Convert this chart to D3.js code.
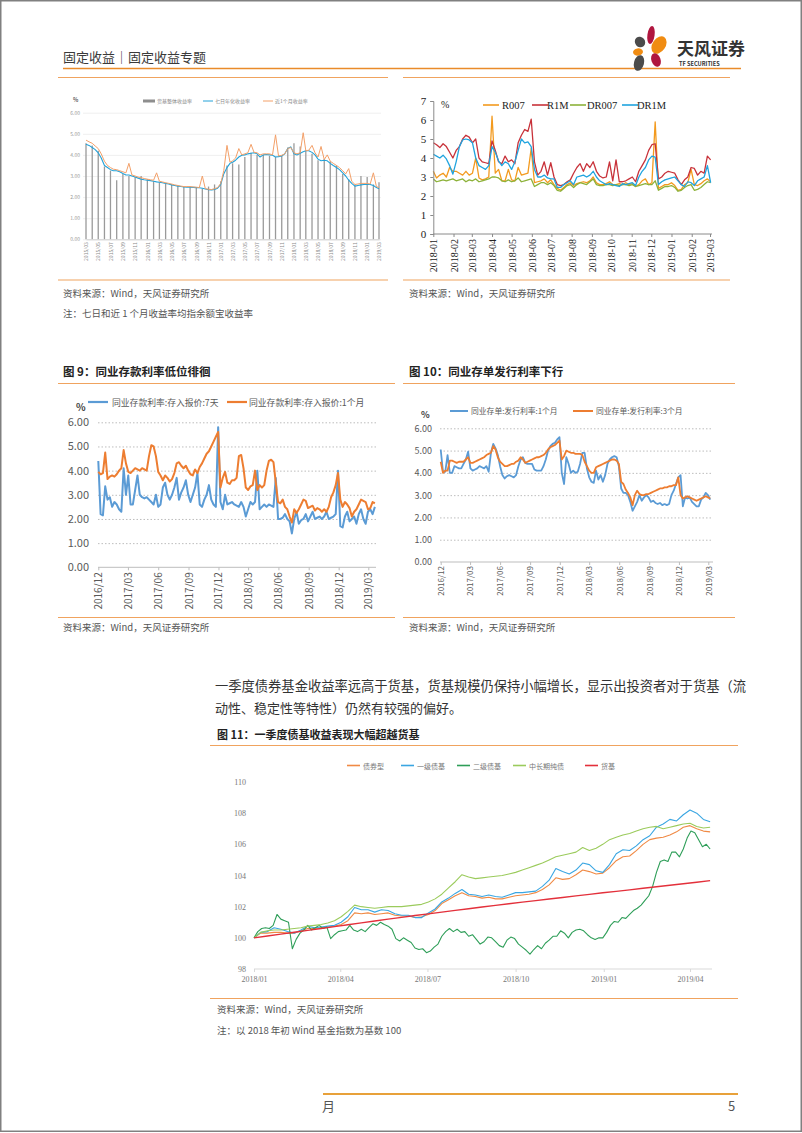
<!DOCTYPE html>
<html>
<head>
<meta charset="utf-8">
<title>固定收益专题 p5</title>
<script src="https://cdn.jsdelivr.net/npm/d3@7"></script>
<style>
  html, body { margin: 0; padding: 0; background: #fff; }
  svg { display: block; }
  text { font-family: "Noto Sans CJK SC", "Noto Sans", sans-serif; }
  .serif text, text.serif { font-family: "Liberation Serif", "DejaVu Serif", serif; }
</style>
</head>
<body>
<svg id="page" width="802" height="1133"></svg>
<script>
// ---------- data: 余额宝 / 货基 (semi-monthly from 2015-03) ----------
const ylbStart = "2015-03-01";
const ylbFundYield = [4.55,4.45,4.2,3.45,3.25,2.8,3.1,3.0,2.95,3.0,2.85,2.75,2.7,2.65,2.6,2.55,2.5,2.5,2.45,2.4,
  2.5,2.6,2.75,3.5,3.6,3.55,3.9,4.1,4.0,4.0,3.95,3.9,3.95,4.35,4.55,4.4,4.2,4.05,3.75,3.8,
  3.7,3.5,3.1,2.85,2.6,3.0,2.95,2.6,2.7];
const ylb7d = [4.5,4.45,4.35,4.25,4.1,3.85,3.5,3.4,3.3,3.25,3.25,3.2,3.12,3.05,3.05,3.0,2.95,2.9,2.85,2.82,
  2.8,2.78,2.75,2.72,2.7,2.68,2.65,2.62,2.58,2.55,2.52,2.5,2.48,2.47,2.47,2.46,2.45,2.44,2.42,2.38,
  2.35,2.34,2.36,2.42,2.6,3.1,3.4,3.6,3.65,3.75,3.9,3.98,4.0,4.05,4.08,4.1,4.05,3.9,4.0,4.02,
  4.0,3.98,3.9,3.92,3.95,4.05,4.3,4.38,4.05,4.0,4.08,4.15,4.2,4.2,4.12,4.0,3.8,3.72,3.75,3.72,
  3.6,3.5,3.4,3.3,3.15,3.0,2.8,2.65,2.52,2.55,2.58,2.6,2.6,2.6,2.55,2.45,2.4];
const ylb1m = [4.7,4.62,4.55,4.42,4.3,4.05,3.7,3.5,3.4,3.32,3.3,3.25,3.2,3.15,3.6,3.05,3.0,2.95,2.92,2.88,
  2.85,2.82,2.8,3.15,2.75,2.72,2.68,2.65,2.62,2.58,2.55,2.52,2.5,2.5,2.5,2.48,2.47,2.45,3.0,2.4,
  2.37,2.36,2.4,2.45,2.65,3.25,4.45,3.65,3.72,3.85,4.3,4.0,4.05,4.1,4.5,4.12,4.1,4.0,4.05,4.05,
  4.05,4.0,4.95,3.95,3.98,4.05,4.3,4.35,4.1,4.05,4.1,5.05,4.2,4.22,4.45,4.1,3.9,4.4,3.78,4.0,
  3.7,3.6,3.5,3.4,3.25,3.1,3.35,2.75,2.6,2.62,2.65,2.65,2.65,2.62,3.15,2.5,2.45];

// ---------- data: 回购利率 (every 5 days from 2018-01-01) ----------
const repoStart = "2018-01-01";
const r007 = [3.3,2.95,3.1,3.2,3.0,3.5,3.3,3.3,3.2,3.1,3.3,3.1,3.2,4.0,2.95,2.85,2.9,3.0,6.2,3.2,
  3.4,2.8,2.8,3.4,2.85,2.8,3.5,3.1,3.15,3.2,4.5,2.7,2.75,2.8,2.9,2.7,2.85,2.6,2.4,2.3,
  2.45,2.6,2.7,2.55,2.65,2.7,2.75,2.7,2.8,3.0,2.7,2.6,2.6,2.65,2.75,2.6,2.6,2.65,2.6,2.7,
  2.6,2.65,2.5,2.6,2.8,2.9,2.6,2.7,5.9,2.4,2.5,2.6,2.6,2.7,2.55,2.3,2.35,2.6,2.7,3.4,
  2.6,2.55,2.65,2.8,2.9,2.75];
const r1m = [4.8,4.7,4.55,4.75,4.6,4.3,4.0,4.4,4.6,5.0,5.2,5.1,4.8,5.0,4.0,3.8,3.75,3.7,4.9,4.4,
  3.8,3.7,4.1,3.8,3.9,3.7,4.8,5.2,5.5,5.4,6.05,3.8,3.1,3.3,3.8,3.1,3.75,3.0,2.6,2.55,
  2.6,2.75,2.85,3.2,3.5,3.7,3.3,3.7,3.5,3.8,3.3,3.05,2.95,3.0,3.8,2.8,3.9,2.75,2.75,2.8,
  2.9,3.0,2.75,3.3,3.6,3.9,4.4,4.7,4.75,2.9,3.0,3.2,3.3,3.25,3.2,2.85,2.6,2.85,3.0,3.5,
  3.45,3.1,3.3,3.2,4.1,3.9];
const dr007 = [2.9,2.75,2.8,2.85,2.8,2.85,2.9,2.8,2.85,2.9,2.75,2.85,2.8,2.9,2.75,2.8,2.85,2.9,3.0,3.0,
  2.95,2.8,2.75,2.85,2.75,2.8,2.95,2.75,2.8,2.85,2.9,2.5,2.6,2.7,2.7,2.6,2.7,2.55,2.3,2.25,
  2.4,2.55,2.6,2.45,2.6,2.7,2.65,2.6,2.75,2.9,2.6,2.55,2.55,2.6,2.6,2.55,2.6,2.55,2.6,2.6,
  2.55,2.6,2.5,2.55,2.6,2.65,2.6,2.6,2.8,2.3,2.4,2.5,2.5,2.55,2.45,2.25,2.3,2.45,2.55,2.6,
  2.3,2.35,2.45,2.6,2.75,2.7];
const dr1m = [4.2,4.1,4.0,4.15,3.95,3.6,3.15,3.8,4.6,4.95,5.0,4.95,4.8,4.0,3.6,3.5,3.4,3.6,4.6,4.3,
  3.85,3.6,3.8,3.7,3.4,3.8,4.4,5.0,4.8,4.85,4.6,3.4,3.0,3.0,3.1,2.95,2.9,2.9,2.45,2.45,
  2.6,2.7,2.8,2.6,3.0,3.05,3.1,3.0,3.1,3.3,3.0,2.8,2.7,2.6,2.65,2.6,2.55,2.5,2.65,2.6,
  2.65,2.7,2.55,3.0,3.3,3.5,3.9,4.1,4.05,2.6,2.75,2.85,2.9,2.95,3.0,2.8,2.6,2.5,2.75,2.7,
  2.55,2.8,2.9,3.0,3.6,2.7];
const repoNames = ["R007", "R1M", "DR007", "DR1M"];

// ---------- data: 图9 同业存款利率 (weekly from 2016-12-01) ----------
const depStart = "2016-12-01";
const dep7d = [4.4,2.2,2.15,3.35,2.8,2.9,2.5,2.7,2.6,2.4,2.3,4.1,3.0,3.8,2.6,2.6,3.2,3.8,3.0,2.9,
  2.85,2.9,2.8,2.7,2.6,3.0,2.5,2.6,3.3,3.5,3.0,2.8,3.0,3.3,3.7,2.8,3.1,3.3,3.6,3.0,
  2.7,3.0,3.3,3.9,2.6,2.5,2.8,3.0,3.4,2.8,2.6,2.5,5.8,2.7,2.4,3.0,2.6,2.65,2.7,2.6,
  2.55,2.5,2.7,2.5,2.1,2.4,2.7,2.6,2.7,4.0,2.4,2.5,2.6,2.5,2.6,2.55,2.5,3.7,2.0,2.0,
  2.05,2.2,2.0,1.9,1.4,2.0,2.3,1.8,1.95,2.0,2.2,1.9,2.1,2.3,2.0,2.05,2.1,2.0,2.1,2.3,
  2.0,2.05,2.1,2.2,4.0,1.7,1.65,2.1,2.3,1.9,2.0,2.1,1.8,2.2,2.4,2.0,1.8,2.3,2.4,2.2,2.5];
const dep1m = [3.95,3.85,3.9,4.75,3.65,3.75,3.8,3.75,3.85,4.0,4.1,4.85,4.3,3.95,3.9,4.0,4.1,4.05,4.0,4.1,
  4.05,4.0,4.6,5.05,5.0,4.6,3.95,3.8,3.6,3.8,3.7,3.55,3.65,3.9,4.3,4.35,4.2,4.1,4.2,4.0,
  3.85,3.8,4.05,3.9,4.15,4.3,4.5,4.7,4.8,5.0,5.2,5.4,5.6,3.3,3.7,3.95,3.5,3.45,3.6,3.6,
  3.7,4.6,4.65,4.1,3.3,3.2,3.35,3.4,4.0,3.2,3.4,3.3,3.4,4.0,4.4,4.45,4.35,3.5,2.7,2.65,
  2.8,2.5,2.4,2.1,1.85,2.4,2.25,2.4,2.6,2.8,2.75,2.45,2.5,2.55,2.35,2.45,2.4,2.3,2.4,2.3,
  2.5,2.9,3.1,3.4,3.9,2.8,2.5,2.7,2.6,2.45,2.1,2.3,2.4,2.6,2.8,2.75,2.7,2.4,2.45,2.7,2.65];
const depNames = ["同业存款利率:存入报价:7天", "同业存款利率:存入报价:1个月"];

// ---------- data: 图10 同业存单发行利率 (weekly from 2016-12-01) ----------
const ncdStart = "2016-12-01";
const ncd1m = [5.05,4.05,4.05,4.8,4.0,4.0,4.3,4.25,4.2,4.2,4.4,4.6,4.95,4.2,4.1,4.15,4.2,4.3,4.25,4.2,
  4.3,4.05,4.9,5.3,5.1,4.8,4.3,3.9,3.75,3.85,3.9,3.85,3.8,3.9,4.3,4.6,4.7,4.45,4.4,4.4,
  4.4,4.15,4.1,4.1,4.1,4.3,4.6,5.0,5.2,5.3,5.35,5.5,5.6,4.0,3.5,4.7,4.4,4.0,4.1,4.0,
  4.05,4.4,4.9,4.9,4.2,3.8,3.6,3.55,4.1,3.7,3.9,3.6,3.9,4.4,4.6,4.7,4.75,4.7,4.3,3.3,
  3.1,3.1,3.0,2.7,2.3,2.5,2.7,3.0,2.75,2.9,3.0,2.9,2.7,2.75,2.65,2.6,2.65,2.55,2.6,2.55,
  2.6,3.0,3.2,3.5,3.8,3.9,2.5,2.9,2.85,2.9,2.7,2.6,2.5,2.5,2.8,2.9,3.1,3.0,2.8];
const ncd3m = [4.5,4.0,4.1,4.1,4.55,4.55,4.5,4.45,4.5,4.5,4.5,4.6,4.7,4.45,4.45,4.5,4.55,4.6,4.65,4.7,
  4.8,4.85,4.9,5.2,5.05,4.7,4.5,4.4,4.3,4.3,4.35,4.4,4.4,4.5,4.55,4.7,4.6,4.45,4.5,4.55,
  4.6,4.65,4.7,4.7,4.75,4.8,4.9,5.05,5.15,5.2,5.25,5.35,5.45,4.6,4.75,5.0,4.95,4.9,4.9,4.85,
  4.85,4.85,4.8,4.5,4.3,4.1,4.0,4.0,4.25,4.3,4.35,4.4,4.45,4.5,4.55,4.6,4.6,4.55,4.4,3.6,
  3.5,3.25,3.1,2.9,2.55,3.0,3.2,3.05,3.0,3.0,3.05,3.05,3.1,3.15,3.2,3.25,3.3,3.3,3.35,3.35,
  3.4,3.4,3.45,3.45,3.8,3.0,2.85,2.9,2.95,2.9,2.85,2.8,2.75,2.8,2.85,2.9,2.95,2.9,2.85];
const ncdNames = ["同业存单:发行利率:1个月", "同业存单:发行利率:3个月"];

// ---------- data: 图11 基金指数 (2018年初=100) ----------
const fundStart = "2018-01-01";
const bondFund = [100.0,100.3,100.3,100.35,100.35,100.3,100.3,100.45,100.6,100.6,100.65,100.7,100.75,100.85,101.1,101.6,101.55,101.6,101.5,101.55,
  101.6,101.45,101.4,101.4,101.3,101.35,101.5,101.75,102.2,102.45,102.7,102.9,102.7,102.65,102.55,102.6,102.5,102.5,102.6,102.7,
  102.75,102.8,102.9,103.1,103.4,103.85,103.75,103.8,104.05,104.35,104.25,104.1,104.15,104.5,104.95,105.2,105.25,105.6,106.0,106.3,
  106.4,106.45,106.6,106.8,107.1,107.2,107.0,106.85,106.8];
const firstBond = [100.0,100.35,100.4,100.65,100.55,100.4,100.3,100.5,100.75,100.65,100.7,100.75,100.8,101.0,101.35,101.95,101.8,101.8,101.65,101.8,
  101.75,101.55,101.45,101.45,101.3,101.3,101.6,101.85,102.3,102.55,102.85,103.1,102.8,102.75,102.65,102.75,102.65,102.6,102.75,102.9,
  102.9,102.95,103.0,103.3,103.7,104.45,104.25,104.1,104.35,104.8,104.7,104.3,104.2,104.7,105.4,105.65,105.6,105.9,106.3,106.55,
  107.1,107.3,107.6,107.5,107.9,108.2,108.0,107.6,107.45];
const secondBond = [100.0,100.4,100.6,100.65,100.6,100.8,101.5,101.2,101.1,101.0,99.3,99.9,100.3,100.5,100.8,100.5,100.65,100.8,100.6,100.7,
  99.95,100.2,100.4,100.45,100.5,100.8,100.5,100.4,100.55,100.4,100.65,100.9,100.8,101.0,100.85,100.75,100.55,99.95,99.8,100.0,
  99.85,99.7,99.35,99.25,99.3,99.05,99.15,99.4,99.6,100.1,100.4,100.6,100.4,100.55,100.35,100.4,100.1,100.2,99.9,99.6,
  99.75,100.05,100.0,99.75,99.5,99.4,99.85,100.05,99.95,99.6,99.4,99.2,98.95,99.25,99.5,99.3,99.65,99.85,100.1,100.1,
  100.45,100.3,100.0,100.35,100.5,100.55,100.45,100.2,100.0,99.9,100.0,100.0,100.35,100.8,101.05,101.0,101.3,101.25,101.5,101.75,
  101.9,102.1,102.4,102.7,103.3,104.2,104.9,105.0,104.9,105.5,105.5,105.2,105.7,106.4,106.85,106.75,106.3,105.85,106.0,105.7];
const midLong = [100.0,100.35,100.45,100.5,100.5,100.55,100.6,100.65,100.75,100.8,100.85,100.95,101.1,101.35,101.7,102.1,102.0,101.95,101.9,101.95,
  102.0,102.0,102.0,102.05,102.1,102.15,102.3,102.5,102.8,103.2,103.6,104.05,103.9,103.8,103.85,103.9,103.95,104.0,104.1,104.2,
  104.35,104.5,104.65,104.8,105.0,105.2,105.3,105.4,105.5,105.8,105.6,105.75,106.0,106.3,106.45,106.6,106.7,106.85,107.0,107.1,
  107.15,107.0,107.1,107.2,107.3,107.35,107.15,107.05,107.1];
const moneyFund = [100.0,100.12,100.24,100.36,100.48,100.6,100.72,100.84,100.96,101.08,101.2,101.31,101.43,101.54,101.65,101.76,101.87,101.98,102.08,102.19,
  102.29,102.39,102.49,102.59,102.69,102.79,102.89,102.98,103.08,103.18,103.28,103.37,103.47,103.57,103.67];
const fundNames = ["债券型", "一级债基", "二级债基", "中长期纯债", "货基"];

// ---------- helpers ----------
const parse = d3.timeParse("%Y-%m-%d");
const svg = d3.select("#page");

function stepDates(start, n, days) {
  const s = parse(start);
  return d3.range(n).map(i => d3.timeDay.offset(s, i * days));
}
function halfMonthDates(start, n) {
  const s = parse(start);
  return d3.range(n).map(i => d3.timeDay.offset(d3.timeMonth.offset(s, Math.floor(i / 2)), (i % 2) * 15));
}
function monthTicks(start, n, every) {
  const s = parse(start);
  return d3.range(n).map(i => d3.timeMonth.offset(s, i * every));
}
function addLine(g, x, y, dates, vals, color, w) {
  const line = d3.line().x((d, i) => x(dates[i])).y(d => y(d));
  g.append("path").datum(vals)
    .attr("d", line)
    .attr("fill", "none")
    .attr("stroke", color)
    .attr("stroke-width", w)
    .attr("stroke-linejoin", "round");
}
function hline(x1, x2, y, color, w) {
  svg.append("line").attr("x1", x1).attr("x2", x2).attr("y1", y).attr("y2", y)
    .attr("stroke", color).attr("stroke-width", w);
}
function label(x, y, str, size, color, opts) {
  const t = svg.append("text").attr("x", x).attr("y", y)
    .attr("font-size", size).attr("fill", color).text(str);
  if (opts && opts.bold) t.attr("font-weight", "bold");
  if (opts && opts.anchor) t.attr("text-anchor", opts.anchor);
  return t;
}
// rotate the tick labels of a bottom axis so they read upward
function rotateTicks(axisG, size, color, pad) {
  axisG.selectAll(".tick text")
    .attr("transform", "rotate(-90)")
    .attr("text-anchor", "end")
    .attr("x", -pad).attr("y", 0).attr("dy", "0.35em")
    .attr("font-size", size).attr("fill", color);
}

// ---------- page frame, header ----------
svg.append("rect").attr("x", 0.75).attr("y", 0.75).attr("width", 800.5).attr("height", 1130.5)
  .attr("fill", "none").attr("stroke", "#808080").attr("stroke-width", 1.5);

label(63, 62, "固定收益｜固定收益专题", 13, "#3a3a3a");
hline(63, 741, 68.5, "#E98B2A", 1.6);

// logo petals
const logo = svg.append("g");
[[651, 35, 3.6, 9, 8, "#B0163F"], [640, 42, 5, 5.5, -40, "#4B4B4B"], [659, 45, 6.5, 9.5, 35, "#F08C12"],
 [638, 52, 5, 3.6, -10, "#F08C12"], [639, 63, 5, 8, 15, "#4B4B4B"], [656, 60, 4.6, 7, -20, "#B0163F"]]
  .forEach(p => logo.append("ellipse").attr("cx", p[0]).attr("cy", p[1]).attr("rx", p[2]).attr("ry", p[3])
    .attr("transform", `rotate(${p[4]},${p[0]},${p[1]})`).attr("fill", p[5]));
label(677, 55, "天风证券", 17, "#333", { bold: true });
label(679, 66, "TF SECURITIES", 5.6, "#333", { bold: true });

// frame lines of the two top charts
hline(58, 388, 77.5, "#F0A35E", 1.2);
hline(403, 730, 77.5, "#F0A35E", 1.2);
hline(58, 388, 280, "#F0A35E", 1.2);
hline(403, 730, 280, "#F0A35E", 1.2);
label(63, 297, "资料来源：Wind，天风证券研究所", 9.5, "#555");
label(63, 317, "注：七日和近 1 个月收益率均指余额宝收益率", 9.5, "#555");
label(409, 297, "资料来源：Wind，天风证券研究所", 9.5, "#555");

// ---------- chart A: 余额宝收益率 ----------
{
  const g = svg.append("g");
  const x = d3.scaleTime().domain([parse("2015-03-01"), parse("2019-03-01")]).range([86, 379]);
  const y = d3.scaleLinear().domain([0, 6]).range([239.3, 112.7]);
  const grid = g.append("g").attr("transform", "translate(83,0)")
    .call(d3.axisLeft(y).ticks(6).tickSize(-298).tickFormat(""));
  grid.select(".domain").remove();
  grid.selectAll(".tick line").attr("stroke", "#E4E4E4").attr("stroke-width", 0.6);
  const ya = g.append("g").attr("transform", "translate(83,0)")
    .call(d3.axisLeft(y).ticks(6).tickSize(0).tickPadding(3).tickFormat(d3.format(".2f")));
  ya.select(".domain").remove();
  ya.selectAll("text").attr("font-size", 5).attr("fill", "#999");

  const bd = monthTicks(ylbStart, ylbFundYield.length, 1);
  g.append("g").selectAll("line").data(ylbFundYield).join("line")
    .attr("x1", (d, i) => x(bd[i])).attr("x2", (d, i) => x(bd[i]))
    .attr("y1", y(0)).attr("y2", d => y(d))
    .attr("stroke", "#9A9A9A").attr("stroke-width", 1.3);
  addLine(g, x, y, halfMonthDates(ylbStart, ylb7d.length), ylb7d, "#24A2D8", 1.1);
  addLine(g, x, y, halfMonthDates(ylbStart, ylb1m.length), ylb1m, "#F3A069", 1);

  const xa = g.append("g").attr("transform", `translate(0,${y(0)})`)
    .call(d3.axisBottom(x).tickValues(monthTicks(ylbStart, 25, 2)).tickSize(0).tickFormat(d3.timeFormat("%Y/%m")));
  xa.select(".domain").attr("stroke", "#D0D0D0");
  rotateTicks(xa, 5, "#888", 3);

  label(73, 102, "%", 5.5, "#666", { bold: true });
  g.append("rect").attr("x", 143).attr("y", 99.5).attr("width", 12).attr("height", 3).attr("fill", "#8E8E8E");
  label(157, 102.5, "货基整体收益率", 5, "#888");
  hline(203, 213, 101, "#24A2D8", 1);
  label(215, 102.5, "七日年化收益率", 5, "#888");
  hline(263, 273, 101, "#F3A069", 1);
  label(275, 102.5, "近1个月收益率", 5, "#888");
}

// ---------- chart B: R007 / R1M / DR007 / DR1M ----------
{
  const g = svg.append("g").attr("class", "serif");
  const x = d3.scaleTime().domain([parse("2018-01-01"), parse("2019-03-01")]).range([433.3, 710]);
  const y = d3.scaleLinear().domain([0, 7]).range([234, 101]);
  const dates = stepDates(repoStart, r007.length, 5);
  const colors = ["#F39A1E", "#C8323A", "#8DB23A", "#20A4DF"];
  [r007, r1m, dr007, dr1m].forEach((s, i) => addLine(g, x, y, dates, s, colors[i], 1.3));

  const ya = g.append("g").attr("transform", "translate(433.3,0)")
    .call(d3.axisLeft(y).ticks(7).tickSize(3).tickPadding(4).tickFormat(d3.format("d")));
  ya.selectAll("path, line").attr("stroke", "#8a8a8a");
  ya.selectAll("text").attr("font-size", 11).attr("fill", "#222");
  const xa = g.append("g").attr("transform", `translate(0,${y(0)})`)
    .call(d3.axisBottom(x).tickValues(monthTicks("2018-01-01", 15, 1)).tickSize(3).tickFormat(d3.timeFormat("%Y-%m")));
  xa.select(".domain").attr("d", `M433.3,0H712`).attr("stroke", "#8a8a8a");
  xa.selectAll(".tick line").attr("stroke", "#8a8a8a");
  rotateTicks(xa, 10, "#222", 5);

  const lg = svg.append("g").attr("class", "serif");
  lg.append("text").attr("x", 441).attr("y", 108).attr("font-size", 10).attr("fill", "#222").text("%");
  const lx = [[483, 502], [532, 547], [570, 587], [622, 637]];
  repoNames.forEach((n, i) => {
    lg.append("line").attr("x1", lx[i][0]).attr("x2", lx[i][0] + 16).attr("y1", 105).attr("y2", 105)
      .attr("stroke", colors[i]).attr("stroke-width", 1.6);
    lg.append("text").attr("x", lx[i][1]).attr("y", 109).attr("font-size", 10.5).attr("fill", "#222").text(n);
  });
}

// ---------- chart 9 ----------
label(63, 376, "图 9：同业存款利率低位徘徊", 11.5, "#222", { bold: true });
hline(58, 395, 383.5, "#F0A35E", 1.2);
hline(58, 395, 617.5, "#F0A35E", 1.2);
label(63, 631, "资料来源：Wind，天风证券研究所", 9.5, "#555");
{
  const g = svg.append("g");
  const x = d3.scaleTime().domain([parse("2016-12-01"), parse("2019-03-01")]).range([98.3, 368.3]);
  const y = d3.scaleLinear().domain([0, 6]).range([567.3, 422.3]);
  const grid = g.append("g").attr("transform", "translate(98,0)")
    .call(d3.axisLeft(y).tickValues([1, 2, 3, 4, 5, 6]).tickSize(-278).tickFormat(""));
  grid.select(".domain").remove();
  grid.selectAll(".tick line").attr("stroke", "#BDBDBD").attr("stroke-dasharray", "1.5,2");
  const ya = g.append("g").attr("transform", "translate(98,0)")
    .call(d3.axisLeft(y).ticks(6).tickSize(0).tickPadding(9).tickFormat(d3.format(".2f")));
  ya.select(".domain").remove();
  ya.selectAll("text").attr("font-size", 11).attr("fill", "#595959");
  const xa = g.append("g").attr("transform", `translate(0,${y(0)})`)
    .call(d3.axisBottom(x).tickValues(monthTicks("2016-12-01", 10, 3)).tickSize(3).tickFormat(d3.timeFormat("%Y/%m")));
  xa.select(".domain").attr("d", "M98,0H376").attr("stroke", "#BDBDBD");
  xa.selectAll(".tick line").attr("stroke", "#BDBDBD");
  rotateTicks(xa, 10, "#595959", 5);

  addLine(g, x, y, stepDates(depStart, dep7d.length, 7), dep7d, "#5B9BD5", 2);
  addLine(g, x, y, stepDates(depStart, dep1m.length, 7), dep1m, "#ED7D31", 2);

  label(76, 411, "%", 10, "#404040", { bold: true });
  hline(88, 108, 402, "#5B9BD5", 2.2);
  label(112, 405.5, depNames[0], 8.8, "#595959");
  hline(227, 247, 402, "#ED7D31", 2.2);
  label(249, 405.5, depNames[1], 8.8, "#595959");
}

// ---------- chart 10 ----------
label(409, 376, "图 10：同业存单发行利率下行", 11.5, "#222", { bold: true });
hline(403, 735, 383.5, "#F0A35E", 1.2);
hline(403, 735, 617.5, "#F0A35E", 1.2);
label(409, 631, "资料来源：Wind，天风证券研究所", 9.5, "#555");
{
  const g = svg.append("g");
  const x = d3.scaleTime().domain([parse("2016-12-01"), parse("2019-03-01")]).range([440.7, 708.3]);
  const y = d3.scaleLinear().domain([0, 6]).range([562, 428.3]);
  const grid = g.append("g").attr("transform", "translate(440,0)")
    .call(d3.axisLeft(y).tickValues([1, 2, 3, 4, 5, 6]).tickSize(-273).tickFormat(""));
  grid.select(".domain").remove();
  grid.selectAll(".tick line").attr("stroke", "#BDBDBD").attr("stroke-dasharray", "1.5,2");
  const ya = g.append("g").attr("transform", "translate(440,0)")
    .call(d3.axisLeft(y).ticks(6).tickSize(0).tickPadding(8).tickFormat(d3.format(".2f")));
  ya.select(".domain").remove();
  ya.selectAll("text").attr("font-size", 9).attr("fill", "#595959");
  const xa = g.append("g").attr("transform", `translate(0,${y(0)})`)
    .call(d3.axisBottom(x).tickValues(monthTicks("2016-12-01", 10, 3)).tickSize(3).tickFormat(d3.timeFormat("%Y/%m")));
  xa.select(".domain").attr("d", "M440,0H713").attr("stroke", "#BDBDBD");
  xa.selectAll(".tick line").attr("stroke", "#BDBDBD");
  rotateTicks(xa, 8, "#595959", 4);

  addLine(g, x, y, stepDates(ncdStart, ncd1m.length, 7), ncd1m, "#5B9BD5", 1.8);
  addLine(g, x, y, stepDates(ncdStart, ncd3m.length, 7), ncd3m, "#ED7D31", 1.8);

  label(421, 418, "%", 9, "#404040", { bold: true });
  hline(450, 468, 411, "#5B9BD5", 2);
  label(471, 414, ncdNames[0], 7.8, "#595959");
  hline(573, 593, 411, "#ED7D31", 2);
  label(596, 414, ncdNames[1], 7.8, "#595959");
}

// ---------- paragraph ----------
label(215, 691, "一季度债券基金收益率远高于货基，货基规模仍保持小幅增长，显示出投资者对于货基（流", 13.5, "#333")
  .attr("textLength", 531).attr("lengthAdjust", "spacingAndGlyphs");
label(215, 713, "动性、稳定性等特性）仍然有较强的偏好。", 13, "#333");

// ---------- chart 11 ----------
label(217, 739, "图 11：一季度债基收益表现大幅超越货基", 11, "#222", { bold: true });
hline(210, 738, 745.5, "#F0A35E", 1.2);
hline(210, 738, 998.5, "#F0A35E", 1.2);
label(217, 1013, "资料来源：Wind，天风证券研究所", 9.5, "#555");
label(217, 1034, "注：以 2018 年初 Wind 基金指数为基数 100", 9.5, "#555");
{
  const g = svg.append("g");
  const x = d3.scaleTime().domain([parse("2018-01-01"), parse("2019-04-01")]).range([254, 690]);
  const y = d3.scaleLinear().domain([98, 110]).range([969, 782]);
  const ya = g.append("g").attr("class", "serif").attr("transform", "translate(254,0)")
    .call(d3.axisLeft(y).tickValues([98, 100, 102, 104, 106, 108, 110]).tickSize(0).tickPadding(8).tickFormat(d3.format("d")));
  ya.select(".domain").remove();
  ya.selectAll("text").attr("font-size", 8).attr("fill", "#777");
  const xa = g.append("g").attr("class", "serif").attr("transform", `translate(0,${y(98)})`)
    .call(d3.axisBottom(x).tickValues(monthTicks("2018-01-01", 6, 3)).tickSize(3).tickPadding(4).tickFormat(d3.timeFormat("%Y/%m")));
  xa.select(".domain").attr("d", "M254,0H712").attr("stroke", "#D9D9D9");
  xa.selectAll(".tick line").attr("stroke", "#D9D9D9");
  xa.selectAll("text").attr("font-size", 8).attr("fill", "#777");

  const fcolors = ["#F08A45", "#3AA6E2", "#2E9E58", "#9BCB5C", "#E3303B"];
  addLine(g, x, y, stepDates(fundStart, bondFund.length, 7), bondFund, fcolors[0], 1.1);
  addLine(g, x, y, stepDates(fundStart, firstBond.length, 7), firstBond, fcolors[1], 1.1);
  addLine(g, x, y, stepDates(fundStart, secondBond.length, 4), secondBond, fcolors[2], 1.1);
  addLine(g, x, y, stepDates(fundStart, midLong.length, 7), midLong, fcolors[3], 1.1);
  addLine(g, x, y, stepDates(fundStart, moneyFund.length, 14), moneyFund, fcolors[4], 1.4);

  const lx = [347, 401, 457, 513, 585];
  fundNames.forEach((n, i) => {
    hline(lx[i], lx[i] + 13, 765.5, fcolors[i], 1.6);
    label(lx[i] + 16, 768.5, n, 7, "#777");
  });
}

// ---------- footer ----------
hline(323, 738, 1094, "#E8A13A", 2);
label(322, 1111, "月", 13, "#555");
label(728, 1111, "5", 13, "#555");
</script>
</body>
</html>
